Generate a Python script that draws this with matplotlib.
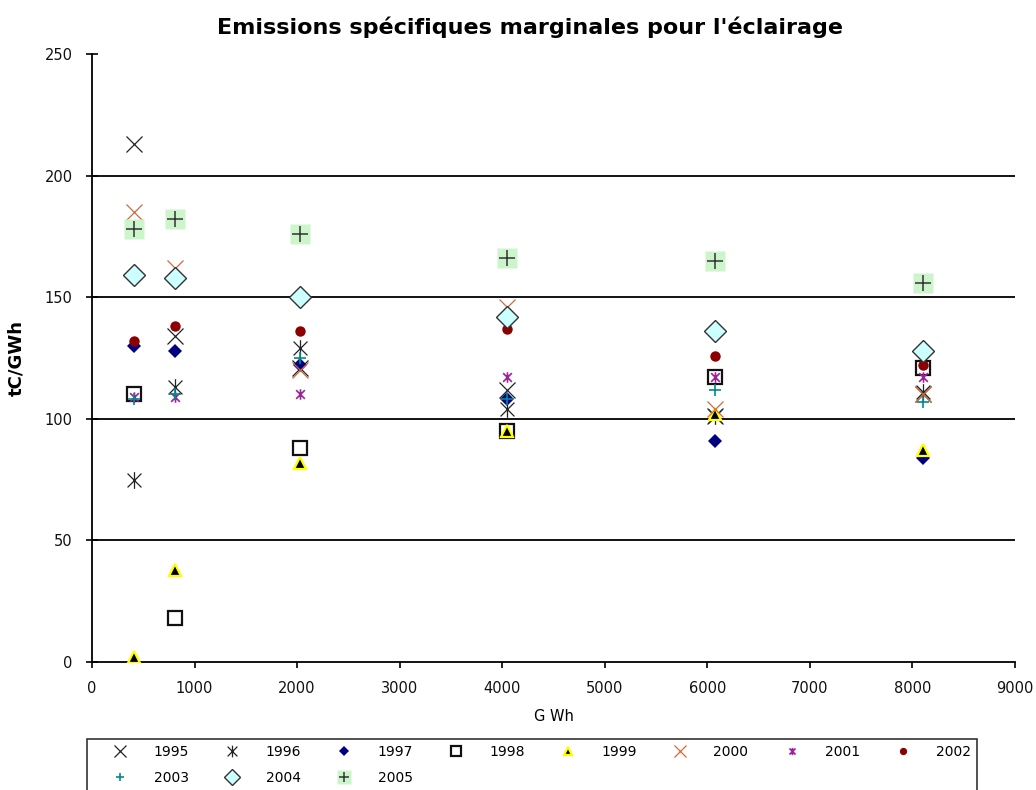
import matplotlib
matplotlib.use('Agg')
from matplotlib import pyplot as plt
from matplotlib.path import Path
import numpy as np

# x positions (GWh) and the yearly series (tC/GWh)
gwh = [405, 810, 2025, 4050, 6075, 8100]
years = ['1995', '1996', '1997', '1998', '1999', '2000',
         '2001', '2002', '2003', '2004', '2005']
y1995 = [213, 134, 121, 112, 101, 110]
y1996 = [75, 113, 129, 104, 101, 111]
y1997 = [130, 128, 122, 108, 91, 84]
y1998 = [110, 18, 88, 95, 117, 121]
y1999 = [2, 38, 82, 95, 102, 87]
y2000 = [185, 162, 120, 146, 104, 110]
y2001 = [109, 109, 110, 117, 117, 117]
y2002 = [132, 138, 136, 137, 126, 122]
y2003 = [108, 110, 125, 108, 112, 107]
y2004 = [159, 158, 150, 142, 136, 128]
y2005 = [178, 182, 176, 166, 165, 156]
yticks = [0, 50, 100, 150, 200, 250]
xticks = np.arange(0, 9001, 1000)

# Excel style star: an x with a vertical bar through it
star = Path([(-1, -1), (1, 1), (-1, 1), (1, -1), (0, -1.2), (0, 1.2)],
            [Path.MOVETO, Path.LINETO] * 3)

styles = {
    '1995': dict(marker='x', color='#222222', ms=12, mew=0.9),
    '1996': dict(marker=star, color='#222222', ms=12, mew=0.9),
    '1997': dict(marker='D', color='#000080', ms=7.5, mew=0),
    '1998': dict(marker='s', mfc='white', mec='#111111', ms=10, mew=1.6),
    '1999': dict(marker='^', mfc='black', mec='#ffff00', ms=9, mew=1.6),
    '2000': dict(marker='x', color='#d2693c', ms=12, mew=0.9),
    '2001': dict(marker=star, color='#a020a0', ms=7.5, mew=1.2),
    '2002': dict(marker='o', color='#8b0000', ms=7.5, mew=0),
    '2003': dict(marker='+', color='#008b8b', ms=8, mew=1.2),
    '2004': dict(marker='D', mfc='#ccffff', mec='#333333', ms=11, mew=1.0),
}
series = [y1995, y1996, y1997, y1998, y1999, y2000,
          y2001, y2002, y2003, y2004, y2005]

fig = plt.figure(figsize=(10.36, 7.90), dpi=100)
ax = fig.add_axes([92 / 1036, 1 - 662 / 790, (1015 - 92) / 1036, (662 - 54) / 790])

# horizontal grid lines, black like the Excel original
for t in yticks[1:-1]:
    ax.axhline(t, color='black', lw=1.3, zorder=1)

handles = []
for year, vals in zip(years, series):
    if year == '2005':
        sq, = ax.plot(gwh, vals, ls='none', marker='s', ms=14, mfc='#ccf5cc',
                      mec='none', zorder=3)
        pl, = ax.plot(gwh, vals, ls='none', marker='+', ms=11, mew=1.1,
                      color='#333333', zorder=3)
        handles.append((sq, pl))
    else:
        h, = ax.plot(gwh, vals, ls='none', zorder=3, **styles[year])
        handles.append(h)

ax.set_xlim(0, 9000)
ax.set_ylim(0, 250)
ax.set_xticks(xticks)
ax.set_yticks(yticks)
ax.spines['top'].set_visible(False)
ax.spines['right'].set_visible(False)
for s in ['left', 'bottom']:
    ax.spines[s].set_linewidth(1.3)
ax.tick_params(axis='y', direction='inout', length=8, width=1.2, labelsize=10.5, pad=10)
ax.tick_params(axis='x', direction='out', length=4, width=1.2, labelsize=10.5, pad=10)
for lab in ax.get_yticklabels() + ax.get_xticklabels():
    lab.set_color('#111111')

ax.set_xlabel('G Wh', fontsize=10.5, labelpad=9)
ax.set_ylabel('tC/GWh', fontsize=13, fontweight='bold', labelpad=14)
fig.text(0.512, 1 - 27 / 790, "Emissions spécifiques marginales pour l'éclairage",
         ha='center', va='center', fontsize=16, fontweight='bold')

# legend fills column by column: reorder so the rows read 1995..2002 / 2003..2005
order = [0, 8, 1, 9, 2, 10, 3, 4, 5, 6, 7]
leg = fig.legend([handles[i] for i in order], [years[i] for i in order],
                 ncol=8, loc='upper left',
                 bbox_to_anchor=(87 / 1036, 1 - 739 / 790, (977 - 87) / 1036, 0),
                 mode='expand', borderaxespad=0, fontsize=10, frameon=True,
                 fancybox=False, edgecolor='black', handlelength=4.0,
                 handletextpad=0.4, labelspacing=0.9, borderpad=0.4,
                 markerscale=0.7)
leg.get_frame().set_linewidth(1.2)

fig.savefig('out.png', dpi=100)
